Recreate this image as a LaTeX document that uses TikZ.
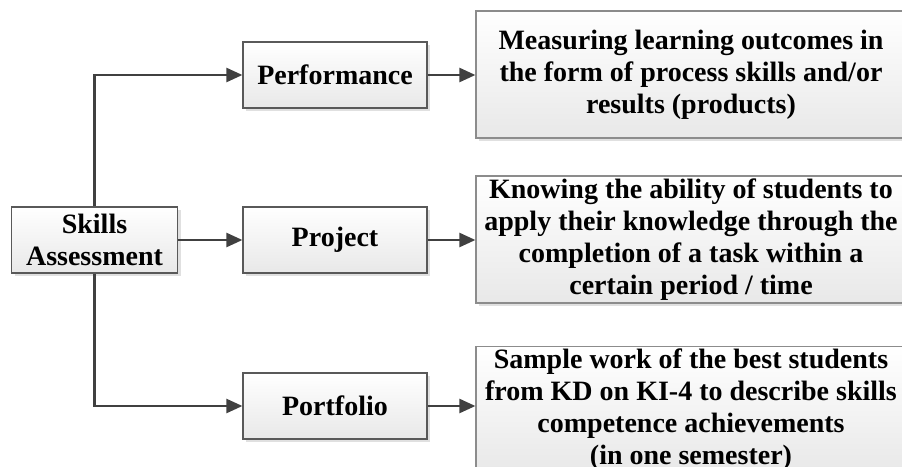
\documentclass[tikz,border=0pt]{standalone}
\usepackage{fontspec}
\setmainfont{Liberation Serif}
\usetikzlibrary{arrows.meta,shadows}

\begin{document}
\begin{tikzpicture}[
  x=1pt,y=-1pt,
  font=\fontsize{28}{32}\selectfont\bfseries,
  >={Triangle[length=16pt,width=14pt]},
  box/.style={draw=black!65,line width=1.2pt,top color=white,bottom color=black!9,
              drop shadow={shadow xshift=3pt,shadow yshift=-3pt,
                           fill=black!12,opacity=1},
              align=center,inner sep=0pt},
  kind/.style={box,minimum width=184pt,minimum height=66pt},
  note/.style={box,draw=black!45,minimum width=430pt,minimum height=127pt},
  link/.style={->,line width=2.4pt,draw=black!75},
]
\path[use as bounding box,clip] (0,0) rectangle (902,466);

% ---- left: the root of the tree ----
\node[box,minimum width=166pt,minimum height=66pt] (skills) at (94.5,240)
     {Skills\\Assessment};

% ---- middle: the three kinds of assessment ----
\node[kind] (perf) at (335,75)  {Performance};
\node[kind] (proj) at (335,240) {Project};
\node[kind] (port) at (335,406) {Portfolio};

% ---- right: what each kind is about ----
\node[note] (perfnote) at (691,74.5)
     {Measuring learning outcomes in\\
      the form of process skills and/or\\
      results (products)};
\node[note] (projnote) at (691,239.5)
     {Knowing the ability of students to\\
      apply their knowledge through the\\
      completion of a task within a\\
      certain period / time};
\node[note] (portnote) at (691,410)
     {Sample work of the best students\\
      from KD on KI-4 to describe skills\\
      competence achievements\\
      (in one semester)};

% trunk out of the root box, one branch per kind
\draw[link] (skills.north) |- (perf.west);
\draw[link] (skills.east) -- (proj.west);
\draw[link] (skills.south) |- (port.west);

% each kind points to its note, kept level with the kind
\draw[link] (perf.east) -- (perf.east -| perfnote.west);
\draw[link] (proj.east) -- (proj.east -| projnote.west);
\draw[link] (port.east) -- (port.east -| portnote.west);

\end{tikzpicture}
\end{document}
